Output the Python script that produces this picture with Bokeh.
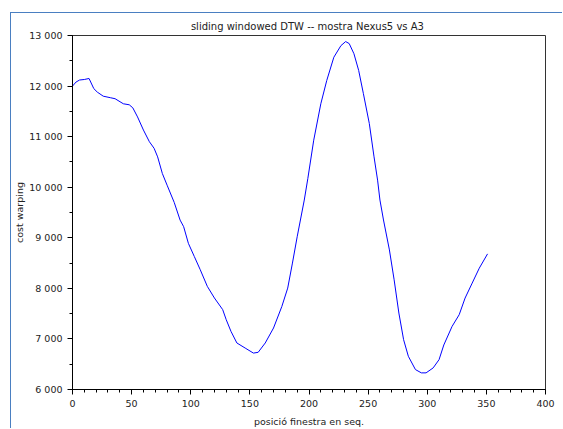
from bokeh.plotting import figure
from bokeh.models import Range1d, FixedTicker
from bokeh.embed import file_html
from bokeh.resources import INLINE

title_text = "sliding windowed DTW --  mostra Nexus5 vs A3"
x_label = "posició finestra en seq."
y_label = "cost warping"

pos = [0, 3, 6, 10, 14, 18, 21, 26, 32, 36, 43, 48, 51, 55, 60, 65, 69, 72, 76, 80,
       86, 91, 94, 98, 103, 108, 114, 120, 127, 130, 134, 139, 146, 153, 157, 163,
       170, 177, 182, 186, 190, 196, 199, 204, 210, 215, 221, 227, 231, 234, 238,
       242, 246, 251, 255, 258, 260, 263, 268, 272, 276, 280, 284, 290, 295, 299,
       305, 310, 314, 321, 327, 332, 338, 344, 351]
cost = [12000, 12080, 12120, 12130, 12150, 11950, 11880, 11800, 11770, 11750, 11650,
        11630, 11570, 11390, 11130, 10900, 10770, 10600, 10270, 10040,
        9700, 9350, 9220, 8890, 8630, 8370, 8040, 7810, 7580, 7380, 7150, 6920, 6820,
        6720, 6735, 6920, 7216, 7640, 8005, 8500, 9020, 9746, 10170, 10930, 11650,
        12110, 12570, 12800, 12880, 12840, 12640, 12310, 11850, 11260, 10600, 10140,
        9746, 9352, 8760, 8169, 7512, 6985, 6657, 6394, 6329, 6329, 6427, 6591, 6880,
        7248, 7479, 7808, 8104, 8399, 8682]

x_ticks = list(range(0, 401, 50))
x_minor = list(range(0, 401, 10))
y_ticks = list(range(6000, 13001, 1000))
y_minor = list(range(6000, 13001, 500))

FONT = "DejaVu Sans"

p = figure(width=552, height=416, output_backend="svg", toolbar_location=None,
           x_range=Range1d(0, 400), y_range=Range1d(6000, 13000),
           min_border_left=61, min_border_right=18, min_border_top=22,
           min_border_bottom=39, title=title_text)
p.margin = (12, 0, 0, 10)
p.styles = {"border-left": "1px solid #4a7fc1", "border-top": "1px solid #4a7fc1"}
p.grid.visible = False
p.outline_line_color = "#333333"
p.outline_line_width = 1

p.title.align = "center"
p.title.standoff = 8
p.title.text_font = FONT
p.title.text_font_size = "10px"
p.title.text_font_style = "normal"
p.title.text_color = "#222222"

p.line(pos, cost, line_color="#0000ff", line_width=1)

p.xaxis.ticker = FixedTicker(ticks=x_ticks, minor_ticks=x_minor)
p.yaxis.ticker = FixedTicker(ticks=y_ticks, minor_ticks=y_minor)
p.yaxis.major_label_overrides = {v: f"{v:,}".replace(",", " ") for v in y_ticks}
for ax in (p.xaxis, p.yaxis):
    ax.major_tick_out = 5
    ax.major_tick_in = 0
    ax.minor_tick_out = 3
    ax.minor_tick_in = 0
    ax.axis_line_color = "black"
    ax.major_tick_line_color = "black"
    ax.minor_tick_line_color = "black"
    ax.major_label_text_font = FONT
    ax.major_label_text_font_size = "9.5px"
    ax.major_label_text_color = "#222222"
    ax.major_label_standoff = 5
    ax.axis_label_text_font = FONT
    ax.axis_label_text_font_size = "9.5px"
    ax.axis_label_text_font_style = "normal"
    ax.axis_label_text_color = "#222222"

p.yaxis.axis_label = y_label
p.yaxis.axis_label_standoff = 1
p.xaxis.axis_label = x_label
p.xaxis.axis_label_standoff = 6

open("out.html", "w").write(file_html(p, INLINE))
